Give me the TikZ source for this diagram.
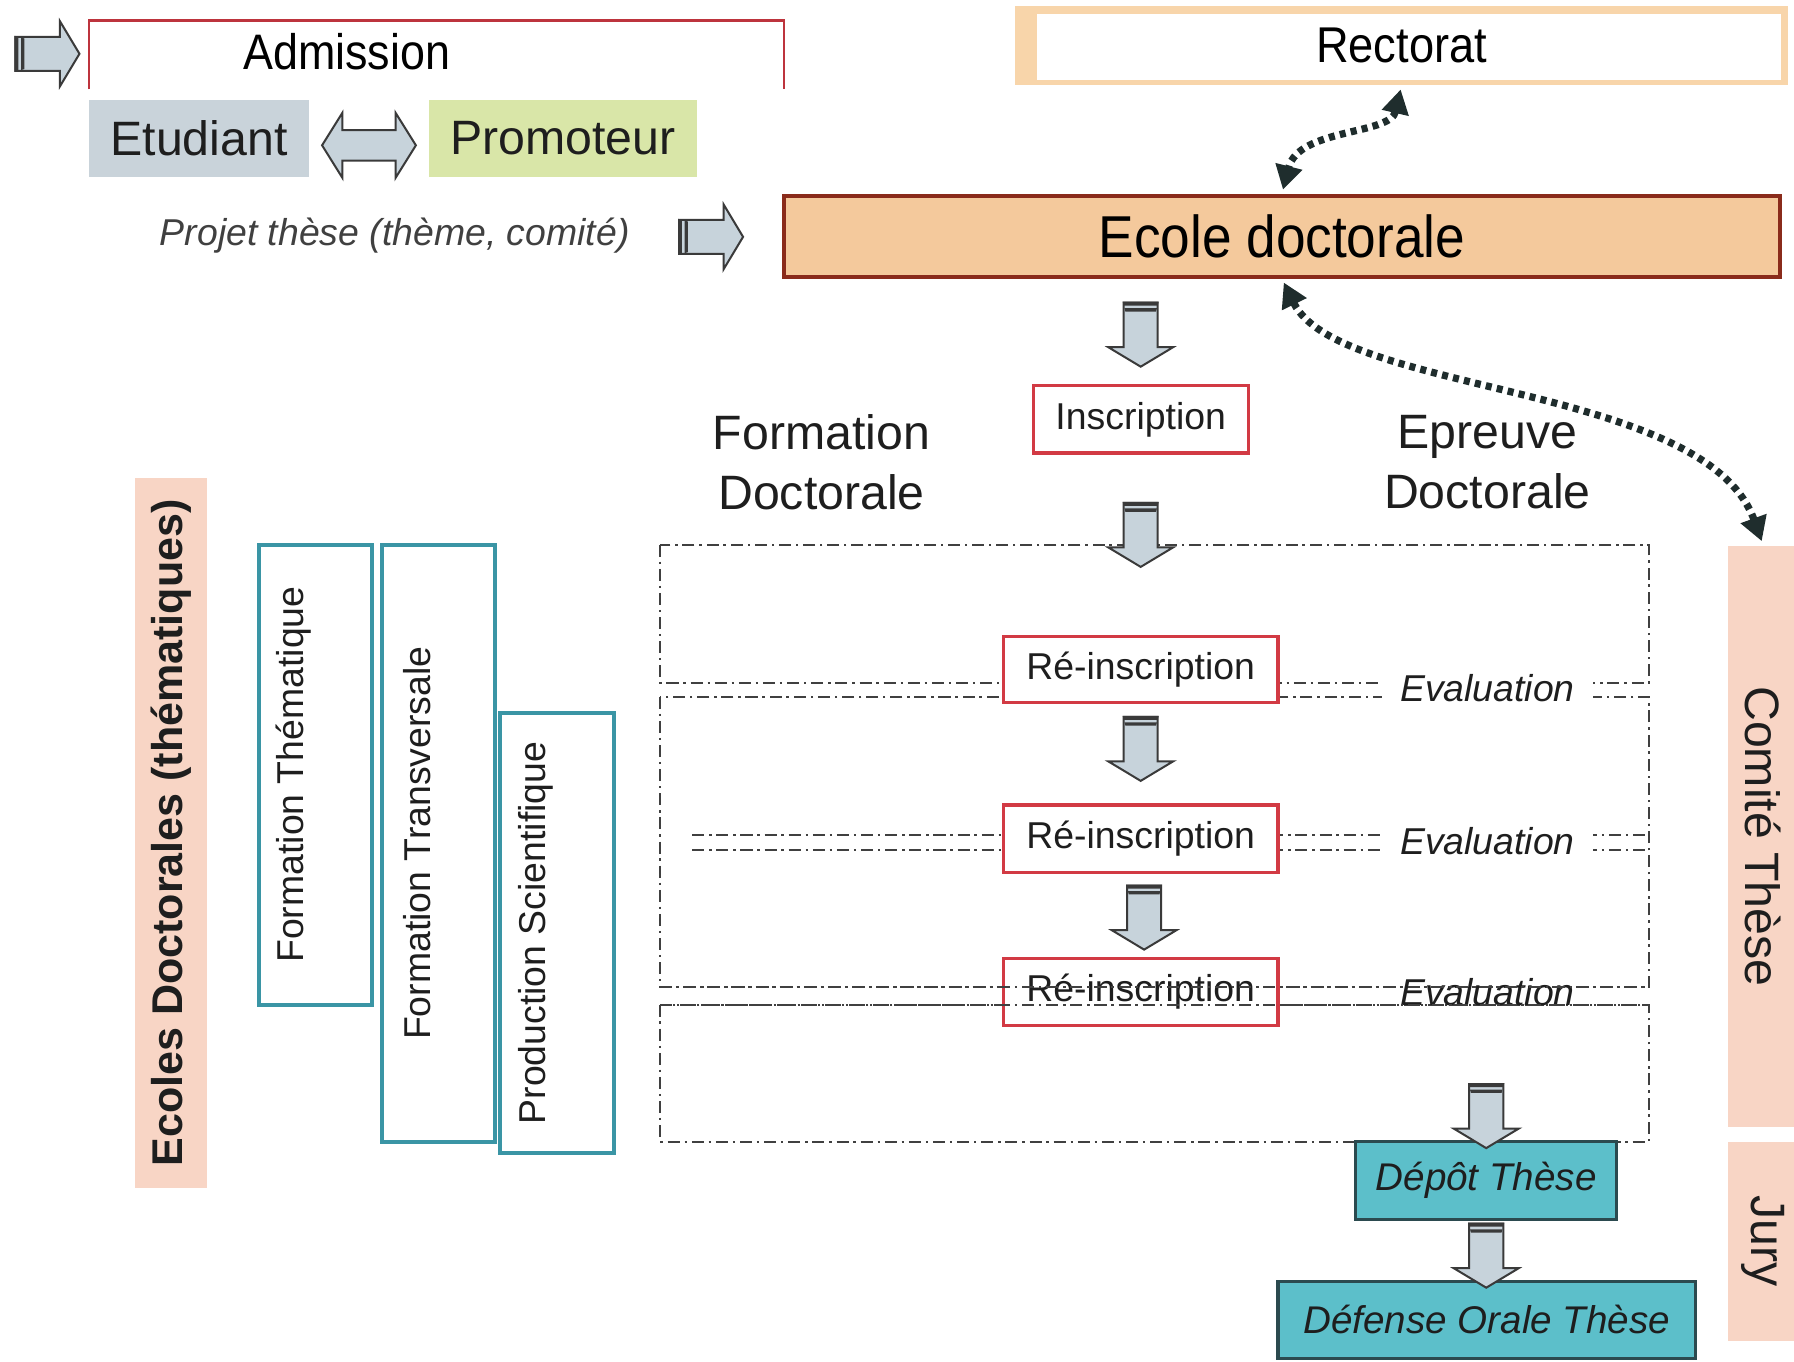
\documentclass[tikz,border=0pt]{standalone}
\usepackage{fontspec}
\setmainfont{Liberation Sans}
\newfontfamily\titlefont[FakeStretch=0.9]{Liberation Sans}
\usetikzlibrary{shapes.arrows,arrows.meta,calc}

\definecolor{ink}{HTML}{1E1E1E}
\definecolor{dotink}{HTML}{1F2D2D}
\definecolor{arrfill}{HTML}{C7D3DB}
\definecolor{arrline}{HTML}{3A3A3A}
\definecolor{etudfill}{HTML}{C9D3DA}
\definecolor{promfill}{HTML}{D9E6A8}
\definecolor{ecolefill}{HTML}{F4C99C}
\definecolor{ecoleline}{HTML}{8A2B1B}
\definecolor{rectframe}{HTML}{F8D5AA}
\definecolor{boxred}{HTML}{D23A44}
\definecolor{thesefill}{HTML}{5CBFCA}
\definecolor{theseline}{HTML}{2B4A4F}
\definecolor{tealline}{HTML}{3A95A5}
\definecolor{peach}{HTML}{F8D5C5}

\begin{document}
\begin{tikzpicture}[x=0.1mm, y=-0.1mm,
    every node/.style={text=ink},
    big/.style={font=\fontsize{12}{14.8}\selectfont},
    small/.style={font=\fontsize{9.3}{11}\selectfont},
    headfont/.style={text=black, font=\titlefont\fontsize{#1}{#1}\selectfont},
    redbox/.style={draw=boxred, line width=0.8pt, fill=white, inner sep=0pt, small},
    evaltxt/.style={inner xsep=1.6mm, inner ysep=0pt, minimum height=4.2mm, font=\itshape\fontsize{9.3}{11}\selectfont},
    tealbox/.style={draw=tealline, line width=1pt, inner sep=0pt, rotate=90},
    thesebox/.style={fill=thesefill, draw=theseline, line width=0.8pt, inner sep=0pt, font=\itshape\fontsize{9.6}{11}\selectfont},
    bar/.style={fill=peach, inner sep=0pt, minimum height=6.2mm},
    flatarrow/.style={single arrow, draw=arrline, fill=arrfill, line width=0.5pt, inner xsep=0pt, inner ysep=1.4mm,
      single arrow head extend=1.35mm, single arrow tip angle=118, minimum height=5.6mm},
    dashdot/.style={draw=ink!85, line width=0.5pt, dash pattern=on 3pt off 1.2pt on 0.6pt off 1.2pt},
    dotarrow/.style={draw=dotink, line width=1.8pt, dash pattern=on 1.5pt off 1.3pt,
      {Triangle[length=6pt,width=6.5pt]}-{Triangle[length=6pt,width=6.5pt]}, shorten <=1pt, shorten >=1pt}]
    \useasboundingbox (0,0) rectangle (1568,1190);

    \draw[dashdot] (577,476) rectangle (1441,597);
    \draw[dashdot] (577,609) rectangle (1441,863);
    \draw[dashdot] (577,878) rectangle (1441,998);
    \draw[dashdot] (605,730) -- (1441,730) (605,743) -- (1441,743);

    \draw[boxred!90!black, line width=0.6pt] (78,78) -- (78,18) -- (685,18) -- (685,78);
    \node[headfont=12.4] (adm) at (303,45) {Admission};
    \node[flatarrow] (arrin) at (37,47) {};

    \node[big, fill=etudfill, inner sep=0pt, minimum width=19.2mm, minimum height=6.7mm] (etud) at (174,121) {Etudiant};
    \node[big, fill=promfill, inner sep=0pt, minimum width=23.4mm, minimum height=6.7mm] (prom) at (492,121) {Promoteur};
    \node[double arrow, draw=arrline, fill=arrfill, line width=0.5pt, inner xsep=0pt, inner ysep=1.25mm,
      double arrow head extend=1.5mm, double arrow tip angle=116, minimum height=8.2mm] (swap) at ($(etud.east)!0.5!(prom.west)+(0,6)$) {};

    \node[small, text=ink!85, font=\itshape\fontsize{9.3}{11}\selectfont] (projet) at (345,206) {Projet thèse (thème, comité)};
    \node[flatarrow] (arrproj) at (617,207) {};

    \node[fill=rectframe, inner sep=0pt, minimum width=67.6mm, minimum height=6.9mm, headfont=12.5,
      path picture={\fill[white] ([xshift=1.9mm,yshift=-0.7mm]path picture bounding box.north west)
        rectangle ([xshift=-0.6mm,yshift=0.4mm]path picture bounding box.south east);}] (rect) at (1225,39.5) {Rectorat};
    \node[fill=ecolefill, draw=ecoleline, line width=1pt, inner sep=0pt, minimum width=87.1mm, minimum height=7.1mm,
      headfont=14.7] (ecole) at (1120.5,206.5) {Ecole doctorale};

    \node[redbox, minimum width=18.8mm, minimum height=5.9mm] (insc) at (997,366.5) {Inscription};
    \node[big, align=center] (fdoc) at (718,404) {Formation\\Doctorale};
    \node[big, align=center] (edoc) at (1300,404) {Epreuve\\Doctorale};

    \node[redbox, minimum width=24mm, minimum height=5.8mm] (rei1) at (997,585) {Ré-inscription};
    \node[redbox, minimum width=24mm, minimum height=5.9mm] (rei2) at (997,733) {Ré-inscription};
    \node[redbox, minimum width=24mm, minimum height=5.8mm] (rei3) at (997,867) {Ré-inscription};
    \node[evaltxt, fill=white] (eval1) at (1300,601) {Evaluation};
    \node[evaltxt, fill=white] (eval2) at (1300,735) {Evaluation};
    \node[evaltxt] (eval3) at (1300,867) {Evaluation};
    \draw[dashdot] (577,863) -- (1441,863) (577,878) -- (1441,878);

    \node[thesebox, minimum width=22.8mm, minimum height=6.8mm] (depot) at (1299,1032) {Dépôt Thèse};
    \node[thesebox, minimum width=36.5mm, minimum height=6.7mm] (defense) at (1299.5,1153.5) {Défense Orale Thèse};

    \node[flatarrow, rotate=-90] (arr1) at (997,288) {};
    \node[flatarrow, rotate=-90] (arr2) at (997,463) {};
    \node[flatarrow, rotate=-90] (arr3) at (997,650) {};
    \node[flatarrow, rotate=-90] (arr4) at (1000,797.5) {};
    \node[flatarrow, rotate=-90] (arr5) at (1299,971) {};
    \node[flatarrow, rotate=-90] (arr6) at (1299,1093) {};
    \foreach \a in {arrin,arrproj,arr1,arr2,arr3,arr4,arr5,arr6}{
      \fill[arrline] (\a.before tail) -- (\a.after tail) -- ($(\a.after tail)!0.06!(\a.tip)$) -- ($(\a.before tail)!0.06!(\a.tip)$) -- cycle;
      \fill[arrline] ($(\a.before tail)!0.10!(\a.tip)$) -- ($(\a.after tail)!0.10!(\a.tip)$) -- ($(\a.after tail)!0.15!(\a.tip)$) -- ($(\a.before tail)!0.15!(\a.tip)$) -- cycle;
    }

    \node[bar, rotate=90, minimum width=62mm, minimum height=6.3mm, font=\bfseries\fontsize{10.7}{12}\selectfont] (ecoles) at (149.5,728) {Ecoles Doctorales (thématiques)};
    \node[bar, rotate=-90, minimum width=50.8mm, big] (comite) at (1541,731) {Comité Thèse};
    \node[bar, rotate=-90, minimum width=17.4mm, big] (jury) at (1541,1085) {Jury};

    \node[tealbox, minimum width=40.2mm, minimum height=9.9mm] (fthem) at (275.5,677) {};
    \node[tealbox, minimum width=52.2mm, minimum height=9.9mm] (ftrans) at (383.5,737) {};
    \node[tealbox, minimum width=38.5mm, minimum height=10mm] (prod) at (487,815.5) {};
    \node[small, rotate=90] (fthemtxt) at ($(fthem)+(-19,0)$) {Formation Thématique};
    \node[small, rotate=90] (ftranstxt) at ($(ftrans)+(-19,0)$) {Formation Transversale};
    \node[small, rotate=90] (prodtxt) at ($(prod)+(-19,0)$) {Production Scientifique};

    \draw[dotarrow] (rect.south) .. controls (1215,118) and (1135,112) .. (ecole.north);
    \draw[dotarrow] (ecole.south) .. controls (1170,345) and (1490,335) .. (comite.west);
\end{tikzpicture}
\end{document}
